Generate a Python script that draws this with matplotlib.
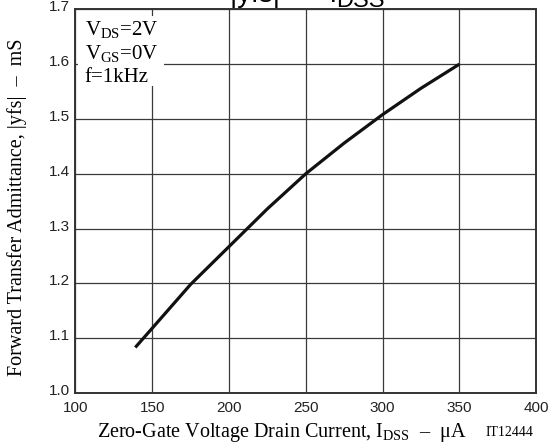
import matplotlib
matplotlib.use("Agg")
import matplotlib.pyplot as plt
import matplotlib.transforms as mtransforms
from matplotlib.patches import Rectangle

# ---------------------------------------------------------------------
# Data
# ---------------------------------------------------------------------
idss_ua = [139, 150, 175, 200, 225, 250, 275, 300, 325, 350]
yfs_ms = [1.083, 1.118, 1.198, 1.267, 1.336, 1.400, 1.456, 1.508, 1.556, 1.600]

x_ticks = [100, 150, 200, 250, 300, 350, 400]
y_ticks = [1.0, 1.1, 1.2, 1.3, 1.4, 1.5, 1.6, 1.7]

conditions = ["V$_{\\rm DS}$=2V", "V$_{\\rm GS}$=0V", "f=1kHz"]

# ---------------------------------------------------------------------
# Fonts
# ---------------------------------------------------------------------
plt.rcParams["font.family"] = ["Liberation Sans", "DejaVu Sans"]
plt.rcParams["mathtext.fontset"] = "custom"
plt.rcParams["mathtext.rm"] = "Liberation Serif"
plt.rcParams["mathtext.it"] = "Liberation Serif:italic"
serif = ["Liberation Serif", "DejaVu Serif"]

fig = plt.figure(figsize=(5.5, 4.45), dpi=100)
ax = fig.add_axes([0.137, 0.117, 0.838, 0.862])

ax.plot(idss_ua, yfs_ms, color="#111111", linewidth=2.3,
        solid_capstyle="butt", zorder=4)

ax.set_xlim(100, 400)
ax.set_ylim(1.0, 1.7)
ax.set_xticks(x_ticks)
ax.set_yticks(y_ticks)
ax.set_xticklabels([str(v) for v in x_ticks])
ax.set_yticklabels([f"{v:.1f}" for v in y_ticks])
ax.tick_params(length=0, labelsize=11, colors="#222222")
ax.tick_params(axis="x", pad=6)
ax.tick_params(axis="y", pad=4)
# y labels sit slightly above their grid lines
up = mtransforms.ScaledTranslation(0, 2.5 / 72, fig.dpi_scale_trans)
for lbl in ax.get_yticklabels():
    lbl.set_transform(lbl.get_transform() + up)
ax.grid(True, color="#3a3a3a", linewidth=0.9)
ax.set_axisbelow(True)
for s in ax.spines.values():
    s.set_linewidth(1.4)
    s.set_color("#333333")

# white box behind the test conditions
ax.add_patch(Rectangle((102, 1.56), 56, 0.127, facecolor="white",
                       edgecolor="none", zorder=2))
for i, line in enumerate(conditions):
    ax.text(106, 1.664 - i * 0.044, line, fontsize=15, family=serif,
            va="center", ha="left", zorder=3)

# title, mostly cut off by the top edge
fig.text(230 / 550, 1 - 2 / 445, "|yfs|  --  I", fontsize=20,
         ha="left", va="baseline")
fig.text(336 / 550, 1 - 12 / 445, "DSS", fontsize=17,
         ha="left", va="bottom")

# axis labels
fig.text(17 / 550, 1 - 207 / 445,
         "Forward Transfer Admittance, |yfs|  \u2013  mS",
         rotation=90, fontsize=14.5, family=serif, ha="center", va="center")
fig.text(97 / 550, 1 - 432 / 445,
         "Zero-Gate Voltage Drain Current, I$_{\\rm DSS}$  \u2013  \u03bcA",
         fontsize=14.5, family=serif, ha="left", va="center")
fig.text(486 / 550, 1 - 432 / 445, "IT12444", fontsize=10, family=serif,
         ha="left", va="center")

fig.savefig("out.png", dpi=100)
